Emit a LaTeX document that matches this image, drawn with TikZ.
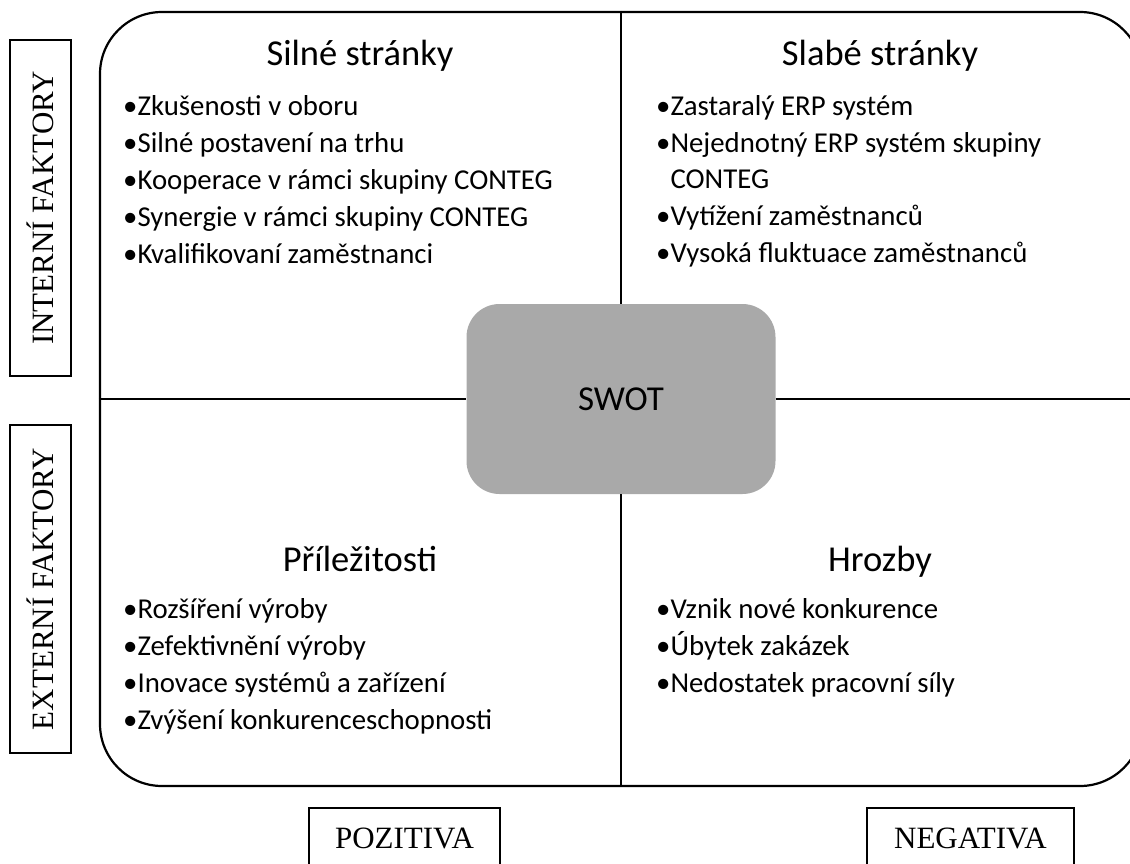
\documentclass[tikz,border=0pt]{standalone}
\usepackage{fontspec}
\setmainfont{Carlito}
\newfontfamily\timesfont{Liberation Serif}
\definecolor{hubgray}{HTML}{A9A9A9}
\begin{document}
\begin{tikzpicture}[x=1pt,y=-1pt,
  frame/.style={draw, line width=2.2pt, rounded corners=62pt, inner sep=0pt},
  divider/.style={line width=2.2pt},
  hub/.style={fill=hubgray, rounded corners=33pt, inner sep=0pt,
    minimum width=309pt, minimum height=190pt, font=\fontsize{35}{42}\selectfont},
  qtitle/.style={anchor=base, inner sep=0pt, font=\fontsize{36.5}{44}\selectfont},
  item/.style={anchor=base west, inner sep=0pt, font=\fontsize{28.8}{35}\selectfont},
  sidebox/.style={draw, line width=1.3pt, inner sep=0pt, font=\timesfont\fontsize{31}{36}\selectfont},
  vsidebox/.style={sidebox, rotate=90, minimum height=61pt}
]
\useasboundingbox (0,0) rectangle (1130,863);

% outer frame and the central hub
\node[frame, minimum width=1042pt, minimum height=774pt] (frame) at (621,399) {};
\node[hub] (swot) at (621,399) {SWOT};

% quadrant dividers
\draw[divider] (frame.north) -- (swot.north);
\draw[divider] (swot.south) -- (frame.south);
\draw[divider] (frame.west) -- (swot.west);
\draw[divider] (swot.east) -- (frame.east);

% strengths
\node[qtitle] (s) at (360,65) {Silné stránky};
\node[item] (s1) at (123,115) {•Zkušenosti v oboru};
\node[item] (s2) at (123,152) {•Silné postavení na trhu};
\node[item] (s3) at (123,189) {•Kooperace v rámci skupiny CONTEG};
\node[item] (s4) at (123,226) {•Synergie v rámci skupiny CONTEG};
\node[item] (s5) at (123,263) {•Kvalifikovaní zaměstnanci};

% weaknesses
\node[qtitle] (w) at (880,65) {Slabé stránky};
\node[item] (w1) at (656,115) {•Zastaralý ERP systém};
\node[item] (w2) at (656,152) {•Nejednotný ERP systém skupiny};
\node[item] (w2b) at (656,188) {\phantom{•}CONTEG};
\node[item] (w3) at (656,225) {•Vytížení zaměstnanců};
\node[item] (w4) at (656,262) {•Vysoká fluktuace zaměstnanců};

% opportunities
\node[qtitle] (o) at (360,571) {Příležitosti};
\node[item] (o1) at (123,618) {•Rozšíření výroby};
\node[item] (o2) at (123,655) {•Zefektivnění výroby};
\node[item] (o3) at (123,692) {•Inovace systémů a zařízení};
\node[item] (o4) at (123,729) {•Zvýšení konkurenceschopnosti};

% threats
\node[qtitle] (t) at (880,571) {Hrozby};
\node[item] (t1) at (656,618) {•Vznik nové konkurence};
\node[item] (t2) at (656,655) {•Úbytek zakázek};
\node[item] (t3) at (656,692) {•Nedostatek pracovní síly};

% axis labels
\node[vsidebox, minimum width=336pt] (int) at (40.5,208) {INTERNÍ FAKTORY};
\node[vsidebox, minimum width=328pt] (ext) at (40.5,589) {EXTERNÍ FAKTORY};
\node[sidebox, minimum width=191pt, minimum height=60pt] (pos) at (404.5,838) {POZITIVA};
\node[sidebox, minimum width=207pt, minimum height=60pt] (neg) at (970.5,838) {NEGATIVA};
\end{tikzpicture}
\end{document}
